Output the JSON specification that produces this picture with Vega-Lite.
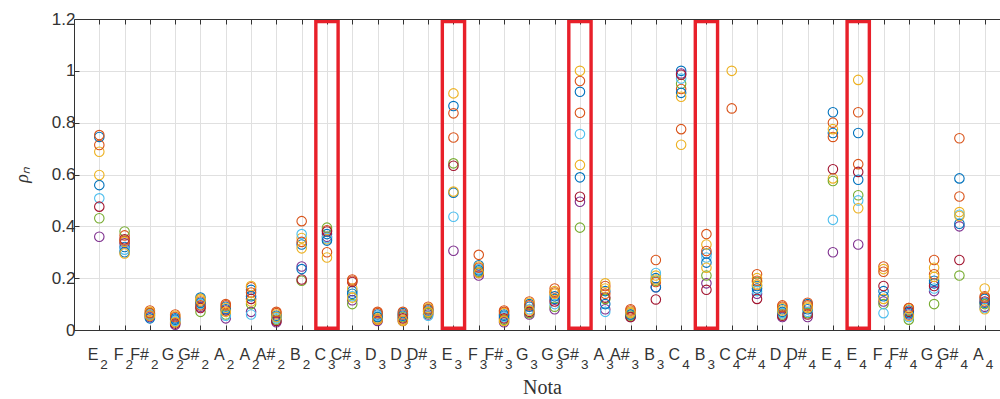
{
  "$schema": "https://vega.github.io/schema/vega-lite/v6.json",
  "autosize": {"type": "none"},
  "padding": {"left": 74, "top": 19, "right": 0, "bottom": 69},
  "width": 926,
  "height": 311,
  "background": "white",
  "config": {"view": {"stroke": null}},
  "datasets": {
    "rho": [
      {"n":1,"s1":0.745,"s2":0.752,"s3":0.688,"s4":0.36,"s5":0.431,"s6":0.508,"s7":0.476,"s8":0.559,"s9":0.714,"s10":0.598},
      {"n":2,"s1":0.32,"s2":0.365,"s3":0.34,"s4":0.335,"s5":0.38,"s6":0.31,"s7":0.35,"s8":0.30,"s9":0.345,"s10":0.295},
      {"n":3,"s1":0.065,"s2":0.075,"s3":0.07,"s4":0.05,"s5":0.06,"s6":0.06,"s7":0.055,"s8":0.045,"s9":0.065,"s10":0.055},
      {"n":4,"s1":0.045,"s2":0.06,"s3":0.055,"s4":0.02,"s5":0.03,"s6":0.035,"s7":0.025,"s8":0.04,"s9":0.05,"s10":0.03},
      {"n":5,"s1":0.125,"s2":0.11,"s3":0.12,"s4":0.09,"s5":0.07,"s6":0.10,"s7":0.085,"s8":0.105,"s9":0.095,"s10":0.115},
      {"n":6,"s1":0.09,"s2":0.10,"s3":0.085,"s4":0.045,"s5":0.06,"s6":0.055,"s7":0.075,"s8":0.08,"s9":0.095,"s10":0.07},
      {"n":7,"s1":0.155,"s2":0.165,"s3":0.17,"s4":0.07,"s5":0.10,"s6":0.06,"s7":0.12,"s8":0.13,"s9":0.145,"s10":0.11},
      {"n":8,"s1":0.05,"s2":0.065,"s3":0.06,"s4":0.03,"s5":0.04,"s6":0.045,"s7":0.035,"s8":0.055,"s9":0.07,"s10":0.05},
      {"n":9,"s1":0.33,"s2":0.42,"s3":0.355,"s4":0.245,"s5":0.19,"s6":0.37,"s7":0.195,"s8":0.235,"s9":0.34,"s10":0.315},
      {"n":10,"s1":0.37,"s2":0.385,"s3":0.35,"s4":0.36,"s5":0.395,"s6":0.355,"s7":0.38,"s8":0.345,"s9":0.30,"s10":0.28},
      {"n":11,"s1":0.15,"s2":0.195,"s3":0.16,"s4":0.115,"s5":0.10,"s6":0.13,"s7":0.185,"s8":0.14,"s9":0.19,"s10":0.125},
      {"n":12,"s1":0.06,"s2":0.07,"s3":0.045,"s4":0.035,"s5":0.05,"s6":0.055,"s7":0.04,"s8":0.05,"s9":0.065,"s10":0.04},
      {"n":13,"s1":0.065,"s2":0.07,"s3":0.04,"s4":0.035,"s5":0.05,"s6":0.06,"s7":0.045,"s8":0.055,"s9":0.06,"s10":0.035},
      {"n":14,"s1":0.08,"s2":0.09,"s3":0.085,"s4":0.06,"s5":0.065,"s6":0.055,"s7":0.07,"s8":0.075,"s9":0.08,"s10":0.07},
      {"n":15,"s1":0.864,"s2":0.836,"s3":0.913,"s4":0.306,"s5":0.643,"s6":0.437,"s7":0.634,"s8":0.53,"s9":0.743,"s10":0.534},
      {"n":16,"s1":0.25,"s2":0.29,"s3":0.245,"s4":0.21,"s5":0.225,"s6":0.235,"s7":0.22,"s8":0.23,"s9":0.24,"s10":0.22},
      {"n":17,"s1":0.06,"s2":0.075,"s3":0.065,"s4":0.03,"s5":0.04,"s6":0.05,"s7":0.045,"s8":0.055,"s9":0.07,"s10":0.035},
      {"n":18,"s1":0.10,"s2":0.11,"s3":0.105,"s4":0.06,"s5":0.065,"s6":0.08,"s7":0.07,"s8":0.09,"s9":0.095,"s10":0.075},
      {"n":19,"s1":0.12,"s2":0.16,"s3":0.15,"s4":0.08,"s5":0.09,"s6":0.10,"s7":0.11,"s8":0.13,"s9":0.145,"s10":0.14},
      {"n":20,"s1":0.919,"s2":0.961,"s3":1.0,"s4":0.495,"s5":0.395,"s6":0.756,"s7":0.514,"s8":0.589,"s9":0.838,"s10":0.637},
      {"n":21,"s1":0.15,"s2":0.17,"s3":0.18,"s4":0.08,"s5":0.12,"s6":0.07,"s7":0.125,"s8":0.10,"s9":0.14,"s10":0.16},
      {"n":22,"s1":0.06,"s2":0.08,"s3":0.07,"s4":0.05,"s5":0.055,"s6":0.065,"s7":0.05,"s8":0.06,"s9":0.075,"s10":0.065},
      {"n":23,"s1":0.20,"s2":0.27,"s3":0.21,"s4":0.165,"s5":0.19,"s6":0.22,"s7":0.118,"s8":0.165,"s9":0.185,"s10":0.195},
      {"n":24,"s1":1.0,"s2":0.93,"s3":0.715,"s4":0.99,"s5":0.95,"s6":0.97,"s7":0.985,"s8":0.915,"s9":0.775,"s10":0.90},
      {"n":25,"s1":0.295,"s2":0.37,"s3":0.33,"s4":0.18,"s5":0.21,"s6":0.28,"s7":0.155,"s8":0.26,"s9":0.305,"s10":0.24},
      {"n":26,"s1":null,"s2":0.855,"s3":1.0,"s4":null,"s5":null,"s6":null,"s7":null,"s8":null,"s9":null,"s10":null},
      {"n":27,"s1":0.17,"s2":0.215,"s3":0.20,"s4":0.14,"s5":0.185,"s6":0.15,"s7":0.12,"s8":0.16,"s9":0.19,"s10":0.175},
      {"n":28,"s1":0.08,"s2":0.095,"s3":0.085,"s4":0.05,"s5":0.06,"s6":0.065,"s7":0.055,"s8":0.07,"s9":0.09,"s10":0.075},
      {"n":29,"s1":0.10,"s2":0.105,"s3":0.09,"s4":0.05,"s5":0.065,"s6":0.07,"s7":0.06,"s8":0.08,"s9":0.095,"s10":0.085},
      {"n":30,"s1":0.84,"s2":0.80,"s3":0.585,"s4":0.30,"s5":0.575,"s6":0.425,"s7":0.62,"s8":0.76,"s9":0.745,"s10":0.775},
      {"n":31,"s1":0.76,"s2":0.84,"s3":0.965,"s4":0.33,"s5":0.52,"s6":0.50,"s7":0.61,"s8":0.58,"s9":0.64,"s10":0.47},
      {"n":32,"s1":0.15,"s2":0.245,"s3":0.235,"s4":0.11,"s5":0.10,"s6":0.065,"s7":0.17,"s8":0.13,"s9":0.225,"s10":0.12},
      {"n":33,"s1":0.075,"s2":0.085,"s3":0.08,"s4":0.06,"s5":0.04,"s6":0.05,"s7":0.07,"s8":0.065,"s9":0.085,"s10":0.055},
      {"n":34,"s1":0.18,"s2":0.27,"s3":0.24,"s4":0.15,"s5":0.10,"s6":0.16,"s7":0.17,"s8":0.19,"s9":0.215,"s10":0.205},
      {"n":35,"s1":0.585,"s2":0.74,"s3":0.455,"s4":0.40,"s5":0.21,"s6":0.445,"s7":0.27,"s8":0.41,"s9":0.515,"s10":0.44},
      {"n":36,"s1":0.12,"s2":0.13,"s3":0.16,"s4":0.09,"s5":0.10,"s6":0.085,"s7":0.11,"s8":0.105,"s9":0.125,"s10":0.08}
    ],
    "boxes": [{"n":10},{"n":15},{"n":20},{"n":25},{"n":31}],
    "notes": [
      {"n":1,"b":"E","o":"2"},{"n":2,"b":"F","o":"2"},{"n":3,"b":"F#","o":"2"},{"n":4,"b":"G","o":"2"},
      {"n":5,"b":"G#","o":"2"},{"n":6,"b":"A","o":"2"},{"n":7,"b":"A","o":"2"},{"n":8,"b":"A#","o":"2"},
      {"n":9,"b":"B","o":"2"},{"n":10,"b":"C","o":"3"},{"n":11,"b":"C#","o":"3"},{"n":12,"b":"D","o":"3"},
      {"n":13,"b":"D","o":"3"},{"n":14,"b":"D#","o":"3"},{"n":15,"b":"E","o":"3"},{"n":16,"b":"F","o":"3"},
      {"n":17,"b":"F#","o":"3"},{"n":18,"b":"G","o":"3"},{"n":19,"b":"G","o":"3"},{"n":20,"b":"G#","o":"3"},
      {"n":21,"b":"A","o":"3"},{"n":22,"b":"A#","o":"3"},{"n":23,"b":"B","o":"3"},{"n":24,"b":"C","o":"4"},
      {"n":25,"b":"B","o":"3"},{"n":26,"b":"C","o":"4"},{"n":27,"b":"C#","o":"4"},{"n":28,"b":"D","o":"4"},
      {"n":29,"b":"D#","o":"4"},{"n":30,"b":"E","o":"4"},{"n":31,"b":"E","o":"4"},{"n":32,"b":"F","o":"4"},
      {"n":33,"b":"F#","o":"4"},{"n":34,"b":"G","o":"4"},{"n":35,"b":"G#","o":"4"},{"n":36,"b":"A","o":"4"}
    ]
  },
  "layer": [
    {
      "data": {"name": "rho"},
      "transform": [
        {"fold": ["s1","s2","s3","s4","s5","s6","s7","s8","s9","s10"], "as": ["s","v"]},
        {"filter": "isValid(datum.v)"}
      ],
      "mark": {"type": "point", "shape": "circle", "filled": false, "size": 90, "strokeWidth": 1.1, "opacity": 1},
      "encoding": {
        "x": {
          "field": "n", "type": "quantitative",
          "scale": {"domain": [0, 37], "range": [0, 936], "nice": false, "zero": false},
          "axis": {
            "orient": "bottom",
            "values": [1,2,3,4,5,6,7,8,9,10,11,12,13,14,15,16,17,18,19,20,21,22,23,24,25,26,27,28,29,30,31,32,33,34,35,36],
            "labels": false,
            "grid": true,
            "gridColor": "#e0e0e0",
            "gridWidth": 1,
            "tickSize": -5,
            "tickColor": "#333333",
            "domainColor": "#333333",
            "title": "Nota",
            "titleFont": "Liberation Serif",
            "titleFontSize": 20,
            "titleFontWeight": "normal",
            "titleColor": "#333333",
            "titlePadding": 47
          }
        },
        "y": {
          "field": "v", "type": "quantitative",
          "scale": {"domain": [0, 1.2], "nice": false, "zero": false},
          "axis": {
            "values": [0, 0.2, 0.4, 0.6, 0.8, 1, 1.2],
            "format": "~g",
            "labelFont": "Liberation Sans",
            "labelFontSize": 17,
            "labelColor": "#333333",
            "labelPadding": 4,
            "grid": true,
            "gridColor": "#e0e0e0",
            "gridWidth": 1,
            "tickSize": -5,
            "tickColor": "#333333",
            "domainColor": "#333333",
            "title": "ρₙ",
            "titleFont": "Liberation Serif",
            "titleFontStyle": "italic",
            "titleFontSize": 18,
            "titleFontWeight": "normal",
            "titleColor": "#333333",
            "titlePadding": 20
          }
        },
        "color": {
          "field": "s", "type": "nominal", "legend": null,
          "scale": {
            "domain": ["s1","s2","s3","s4","s5","s6","s7","s8","s9","s10"],
            "range": ["#0072BD","#D95319","#EDB120","#7E2F8E","#77AC30","#4DBEEE","#A2142F","#0072BD","#D95319","#EDB120"]
          }
        }
      }
    },
    {
      "data": {"name": "boxes"},
      "transform": [
        {"calculate": "datum.n - 0.44", "as": "x1"},
        {"calculate": "datum.n + 0.44", "as": "x2"}
      ],
      "mark": {"type": "rect", "fill": null, "stroke": "#E8202A", "strokeWidth": 3.4},
      "encoding": {
        "x": {
          "field": "x1", "type": "quantitative",
          "scale": {"domain": [0, 37], "range": [0, 936], "nice": false, "zero": false},
          "axis": {
            "orient": "top",
            "values": [1,2,3,4,5,6,7,8,9,10,11,12,13,14,15,16,17,18,19,20,21,22,23,24,25,26,27,28,29,30,31,32,33,34,35,36],
            "labels": false,
            "grid": false,
            "tickSize": -5,
            "tickColor": "#333333",
            "domainColor": "#333333",
            "title": null
          }
        },
        "x2": {"field": "x2"},
        "y": {"datum": 0.0066, "type": "quantitative"},
        "y2": {"datum": 1.19}
      }
    },
    {
      "data": {"name": "notes"},
      "mark": {"type": "text", "align": "right", "baseline": "alphabetic", "dx": -1, "font": "Liberation Sans", "fontSize": 16, "color": "#333333"},
      "encoding": {
        "x": {"field": "n", "type": "quantitative", "scale": {"domain": [0, 37], "range": [0, 936], "nice": false, "zero": false}, "axis": null},
        "y": {"datum": -0.1158, "type": "quantitative"},
        "text": {"field": "b"}
      }
    },
    {
      "data": {"name": "notes"},
      "mark": {"type": "text", "align": "left", "baseline": "alphabetic", "dx": 1, "font": "Liberation Sans", "fontSize": 13.5, "color": "#333333"},
      "encoding": {
        "x": {"field": "n", "type": "quantitative", "scale": {"domain": [0, 37], "range": [0, 936], "nice": false, "zero": false}, "axis": null},
        "y": {"datum": -0.152, "type": "quantitative"},
        "text": {"field": "o"}
      }
    }
  ],
  "resolve": {"axis": {"x": "independent"}}
}
